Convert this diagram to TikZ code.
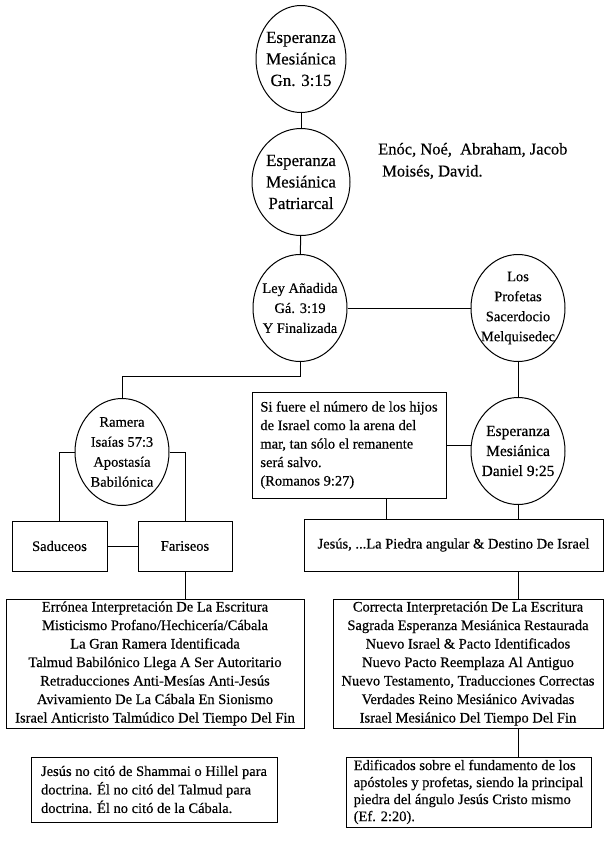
\documentclass[tikz,border=0pt]{standalone}
\usepackage{fontspec}
\setmainfont{Liberation Serif}[FakeBold=0.4]
\usetikzlibrary{positioning, shapes.geometric, calc}

\begin{document}
\begin{tikzpicture}[x=1pt, y=-1pt,
    oval/.style={draw, ellipse, line width=1pt, inner sep=0pt, minimum width=94pt, minimum height=107pt},
    ovaltext/.style={align=center, inner sep=0pt, font=\fontsize{14.5}{20}\selectfont},
    grosstext/.style={ovaltext, font=\fontsize{17}{21.5}\selectfont},
    kasten/.style={draw, rectangle, line width=1pt, inner sep=0pt, align=center, font=\fontsize{14.5}{18.5}\selectfont},
    linie/.style={line width=1pt}]
    \useasboundingbox (0,0) rectangle (612,844);
    % Hauptlinie: Ellipsen oben
    \node[oval, minimum width=90pt, label={[grosstext]center:{Esperanza\\Mesiánica\\Gn. 3:15}}] (gen) at (301,59) {};
    \node[oval, minimum width=98pt, label={[grosstext]center:{Esperanza\\Mesiánica\\Patriarcal}}] (patri) at (301,182) {};
    \node[oval, label={[ovaltext]center:{Ley Añadida\\Gá. 3:19\\Y Finalizada}}] (ley) at (300,308) {};
    \node[oval, label={[ovaltext]center:{Los\\Profetas\\Sacerdocio\\Melquisedec}}] (profetas) at (518,308) {};
    \node[font=\fontsize{16.5}{22}\selectfont, align=left, anchor=west, inner sep=0pt] (patriarcas) at (378,161)
      {Enóc, Noé,\ \ Abraham, Jacob\\\hspace{4pt}Moisés, David.};
    % linker Zweig
    \node[oval, label={[ovaltext]center:{Ramera\\Isaías 57:3\\Apostasía\\Babilónica}}] (ramera) at (122,452) {};
    \node[kasten, minimum width=95pt, minimum height=50pt] (saduceos) at (59.5,546) {Saduceos};
    \node[kasten, minimum width=94pt, minimum height=50pt] (fariseos) at (185,546) {Fariseos};
    \node[kasten, minimum width=298pt, minimum height=129pt] (errores) at (155,663.5)
      {Errónea Interpretación De La Escritura\\Misticismo Profano/Hechicería/Cábala\\La Gran Ramera Identificada\\Talmud Babilónico Llega A Ser Autoritario\\Retraducciones Anti-Mesías Anti-Jesús\\Avivamiento De La Cábala En Sionismo\\Israel Anticristo Talmúdico Del Tiempo Del Fin};
    \node[kasten, align=left, minimum width=246pt, minimum height=65pt] (nota) at (154,789.5)
      {Jesús no citó de Shammai o Hillel para\\doctrina. Él no citó del Talmud para\\doctrina. Él no citó de la Cábala.};
    % rechter Zweig
    \node[oval, label={[ovaltext, font=\fontsize{15.5}{20}\selectfont]center:{Esperanza\\Mesiánica\\Daniel 9:25}}] (daniel) at (518,451) {};
    \node[kasten, align=left, minimum width=194pt, minimum height=106pt] (romanos) at (349,445)
      {Si fuere el número de los hijos\\de Israel como la arena del\\mar, tan sólo el remanente\\será salvo.\\(Romanos 9:27)};
    \node[kasten, minimum width=299pt, minimum height=52pt] (jesus) at (453.5,545)
      {Jesús, ...La Piedra angular \& Destino De Israel};
    \node[kasten, minimum width=270pt, minimum height=129pt] (verdades) at (468,663.5)
      {Correcta Interpretación De La Escritura\\Sagrada Esperanza Mesiánica Restaurada\\Nuevo Israel \& Pacto Identificados\\Nuevo Pacto Reemplaza Al Antiguo\\Nuevo Testamento, Traducciones Correctas\\Verdades Reino Mesiánico Avivadas\\Israel Mesiánico Del Tiempo Del Fin};
    \node[kasten, align=left, minimum width=245pt, minimum height=70pt, font=\fontsize{14.5}{17}\selectfont] (edificados) at (468.5,792)
      {Edificados sobre el fundamento de los\\apóstoles y profetas, siendo la principal\\piedra del ángulo Jesús Cristo mismo\\(Ef. 2:20).};
    % Verbindungen
    \draw[linie] (gen) -- (patri);
    \draw[linie] (patri) -- (ley);
    \draw[linie] (ley) -- (profetas);
    \draw[linie] (ley.south) -- ++(0,14) -| (ramera.north);
    \draw[linie] (ramera.west) -| (saduceos.north);
    \draw[linie] (ramera.east) -| (fariseos.north);
    \draw[linie] (saduceos) -- (fariseos);
    \draw[linie] (fariseos.south) -- (fariseos.south |- errores.north);
    \draw[linie] (profetas) -- (daniel);
    \draw[linie] (romanos.east) -- (romanos.east -| daniel.west);
    \draw[linie] ([xshift=37pt]romanos.south) -- ([xshift=37pt]romanos.south |- jesus.north);
    \draw[linie] (daniel.south) -- (daniel.south |- jesus.north);
    \draw[linie] (daniel.south |- jesus.south) -- (daniel.south |- verdades.north);
    \draw[linie] (daniel.south |- verdades.south) -- (daniel.south |- edificados.north);
\end{tikzpicture}
\end{document}
